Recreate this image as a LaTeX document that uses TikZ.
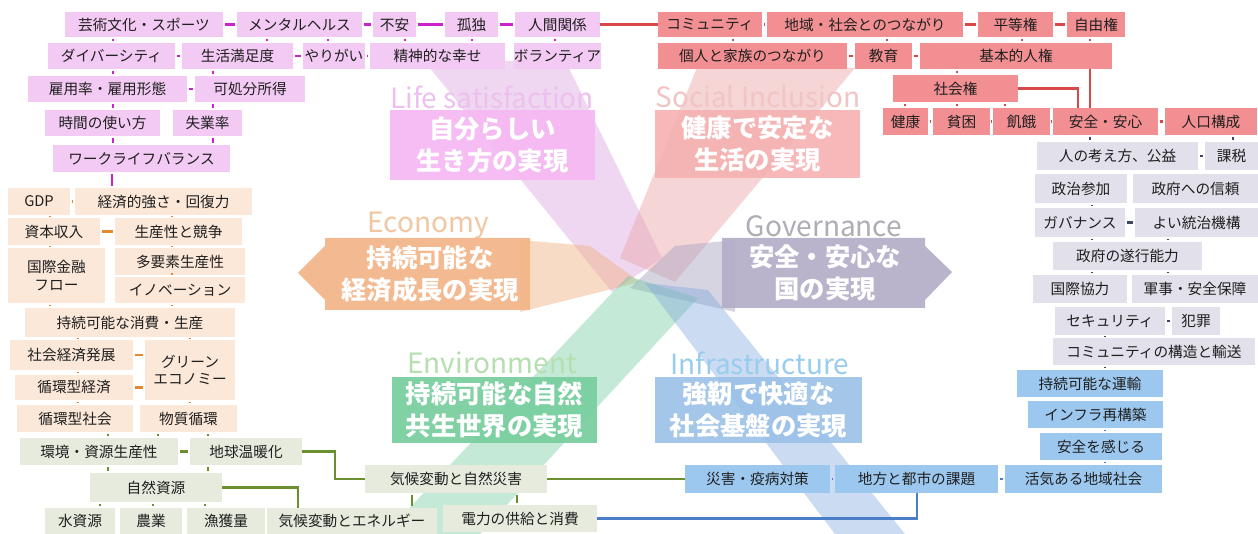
\documentclass[tikz,border=0pt]{standalone}
\usepackage{fontspec}
\setmainfont{Noto Sans CJK JP}
\definecolor{lifeF}{HTML}{F3CAF3}
\definecolor{lifeC}{HTML}{CC22CC}
\definecolor{socF}{HTML}{F28F92}
\definecolor{socC}{HTML}{D94848}
\definecolor{govF}{HTML}{E2E0EA}
\definecolor{govC}{HTML}{3C4668}
\definecolor{infF}{HTML}{9CC8F0}
\definecolor{infC}{HTML}{4A7EC8}
\definecolor{ecoF}{HTML}{FCE8D9}
\definecolor{ecoC}{HTML}{E38A2E}
\definecolor{envF}{HTML}{E6EBDE}
\definecolor{envC}{HTML}{6B8E2E}
\definecolor{lifeB}{HTML}{F5B8F2}
\definecolor{socB}{HTML}{F6B2B2}
\definecolor{ecoB}{HTML}{F3B588}
\definecolor{govB}{HTML}{B5ADC8}
\definecolor{envB}{HTML}{78CE9E}
\definecolor{infB}{HTML}{9CC2E8}
\definecolor{lifeT}{HTML}{EEC0EE}
\definecolor{socT}{HTML}{F2C4C4}
\definecolor{ecoT}{HTML}{F0C7A2}
\definecolor{govT}{HTML}{ADADB5}
\definecolor{envT}{HTML}{B5DFAE}
\definecolor{infT}{HTML}{98CDEE}
\definecolor{pinkBl}{HTML}{DDA8E0}
\definecolor{salBl}{HTML}{EAA4A6}
\definecolor{oraBl}{HTML}{F0B080}
\definecolor{greyBl}{HTML}{A8A0C0}
\definecolor{grnBl}{HTML}{6CC89C}
\definecolor{bluBl}{HTML}{7FA6DE}
\newcommand\bx[7]{\node[#6, minimum width={(#4-#2)*0.75pt}, minimum height={(#5-#3)*0.75pt}] (#1) at ({(#2+#4)/2},{(#3+#5)/2}) {#7};}
\newcommand\vtk[4]{\draw[#1] (#2.south -| #4,0) -- (#3.north -| #4,0);}
\newcommand\htk[3]{\draw[#1] (#2.east) -- (#2.east -| #3.west);}
\begin{document}
\begin{tikzpicture}[x=0.75pt,y=-0.75pt,
  bxs/.style={inner sep=0pt, outer sep=0pt, font=\fontsize{11}{13}\selectfont, text=black!88, align=center},
  lifebox/.style={bxs, fill=lifeF},
  socbox/.style={bxs, fill=socF},
  govbox/.style={bxs, fill=govF},
  infbox/.style={bxs, fill=infF},
  ecobox/.style={bxs, fill=ecoF},
  envbox/.style={bxs, fill=envF},
  tick/.style={line width=1.6pt, shorten <=1.5pt, shorten >=1.5pt},
  lt/.style={tick, draw=lifeC},
  st/.style={tick, draw=socC},
  gt/.style={tick, draw=govC},
  it/.style={tick, draw=infC},
  et/.style={tick, draw=ecoC},
  nt/.style={tick, draw=envC},
  thick link/.style={line width=2.2pt},
  cbox/.style={inner sep=0pt, outer sep=0pt, text=white, font=\fontsize{19}{24}\selectfont\bfseries, align=center},
  ctitle/.style={inner sep=0pt, font=\fontsize{21}{24}\selectfont}
]
\useasboundingbox (0,0) rectangle (1258,534);
\fill[white] (0,0) rectangle (1258,534);

% ---- central blades
\fill[pinkBl, opacity=.45] (425,62) -- (565,60) -- (662,258) -- (612,292) -- cycle;
\fill[salBl, opacity=.45] (700,60) -- (855,68) -- (675,282) -- (620,258) -- cycle;
\fill[oraBl, opacity=.45] (520,240) -- (590,246) -- (640,282) -- (520,312) -- cycle;
\fill[greyBl, opacity=.45] (735,240) -- (675,246) -- (630,288) -- (735,312) -- cycle;
\fill[grnBl, opacity=.4] (385,534) -- (480,534) -- (698,298) -- (628,276) -- cycle;
\fill[bluBl, opacity=.4] (645,283) -- (708,290) -- (905,534) -- (835,534) -- cycle;

% ---- central labels
\node[ctitle, text=lifeT] (tLife) at (492,97) {Life satisfaction};
\bx{bLife}{390}{110}{595}{180}{cbox, fill=lifeB, fill opacity=.92, text opacity=1}{自分らしい\\生き方の実現}
\node[ctitle, text=socT] (tSoc) at (758,97) {Social Inclusion};
\bx{bSoc}{655}{110}{860}{178}{cbox, fill=socB, fill opacity=.92, text opacity=1}{健康で安定な\\生活の実現}
\node[ctitle, text=ecoT] (tEco) at (428,226) {Economy};
\fill[ecoB, opacity=.92] (298,273) -- (325,246) -- (325,238) -- (530,238) -- (530,310) -- (325,310) -- (325,300) -- cycle;
\node[cbox] (bEco) at (430,274) {持続可能な\\経済成長の実現};
\node[ctitle, text=govT] (tGov) at (824,226) {Governance};
\fill[govB, opacity=.92] (722,238) -- (925,238) -- (925,246) -- (952,272) -- (925,300) -- (925,308) -- (722,308) -- cycle;
\node[cbox] (bGov) at (825,273) {安全・安心な\\国の実現};
\node[ctitle, text=envT] (tEnv) at (492,363) {Environment};
\bx{bEnv}{392}{377}{597}{443}{cbox, fill=envB, fill opacity=.92, text opacity=1}{持続可能な自然\\共生世界の実現}
\node[ctitle, text=infT] (tInf) at (760,363) {Infrastructure};
\bx{bInf}{655}{377}{862}{443}{cbox, fill=infB, fill opacity=.92, text opacity=1}{強靭で快適な\\社会基盤の実現}

% ---- Life satisfaction
\bx{L1}{65}{12}{223}{37}{lifebox}{芸術文化・スポーツ}
\bx{L2}{237}{12}{362}{37}{lifebox}{メンタルヘルス}
\bx{L3}{373}{12}{416}{37}{lifebox}{不安}
\bx{L4}{445}{12}{498}{37}{lifebox}{孤独}
\bx{L5}{515}{12}{600}{37}{lifebox}{人間関係}
\bx{L6}{48}{43}{175}{69}{lifebox}{ダイバーシティ}
\bx{L7}{182}{43}{293}{69}{lifebox}{生活満足度}
\bx{L8}{303}{43}{365}{69}{lifebox}{やりがい}
\bx{L9}{370}{43}{505}{69}{lifebox}{精神的な幸せ}
\bx{L10}{515}{43}{600}{69}{lifebox}{ボランティア}
\bx{L11}{28}{76}{187}{102}{lifebox}{雇用率・雇用形態}
\bx{L12}{195}{76}{305}{102}{lifebox}{可処分所得}
\bx{L13}{45}{110}{160}{136}{lifebox}{時間の使い方}
\bx{L14}{173}{110}{242}{136}{lifebox}{失業率}
\bx{L15}{53}{145}{230}{172}{lifebox}{ワークライフバランス}

% ---- Social inclusion
\bx{S1}{658}{12}{762}{37}{socbox}{コミュニティ}
\bx{S2}{767}{12}{963}{37}{socbox}{地域・社会とのつながり}
\bx{S3}{978}{12}{1053}{37}{socbox}{平等権}
\bx{S4}{1067}{12}{1125}{37}{socbox}{自由権}
\bx{S5}{658}{43}{847}{69}{socbox}{個人と家族のつながり}
\bx{S6}{855}{43}{912}{69}{socbox}{教育}
\bx{S7}{920}{43}{1112}{69}{socbox}{基本的人権}
\bx{S8}{893}{75}{1018}{102}{socbox}{社会権}
\bx{S9}{883}{108}{928}{135}{socbox}{健康}
\bx{S10}{933}{108}{990}{135}{socbox}{貧困}
\bx{S11}{993}{108}{1050}{135}{socbox}{飢餓}
\bx{S12}{1053}{108}{1158}{135}{socbox}{安全・安心}
\bx{S13}{1165}{108}{1257}{135}{socbox}{人口構成}

% ---- Governance
\bx{G1}{1037}{142}{1198}{170}{govbox}{人の考え方、公益}
\bx{G2}{1205}{142}{1258}{170}{govbox}{課税}
\bx{G3}{1035}{174}{1127}{203}{govbox}{政治参加}
\bx{G4}{1133}{174}{1258}{203}{govbox}{政府への信頼}
\bx{G5}{1035}{208}{1125}{237}{govbox}{ガバナンス}
\bx{G6}{1135}{208}{1258}{237}{govbox}{よい統治機構}
\bx{G7}{1053}{242}{1202}{270}{govbox}{政府の遂行能力}
\bx{G8}{1033}{275}{1127}{303}{govbox}{国際協力}
\bx{G9}{1132}{275}{1258}{303}{govbox}{軍事・安全保障}
\bx{G10}{1055}{307}{1165}{335}{govbox}{セキュリティ}
\bx{G11}{1172}{307}{1220}{335}{govbox}{犯罪}
\bx{G12}{1053}{338}{1255}{365}{govbox}{コミュニティの構造と輸送}

% ---- Infrastructure
\bx{I1}{1017}{370}{1163}{397}{infbox}{持続可能な運輸}
\bx{I2}{1028}{401}{1163}{428}{infbox}{インフラ再構築}
\bx{I3}{1040}{433}{1162}{460}{infbox}{安全を感じる}
\bx{I4}{1005}{465}{1162}{493}{infbox}{活気ある地域社会}
\bx{I5}{835}{465}{998}{493}{infbox}{地方と都市の課題}
\bx{I6}{685}{465}{830}{493}{infbox}{災害・疫病対策}

% ---- Economy
\bx{C1}{8}{188}{70}{215}{ecobox}{GDP}
\bx{C2}{75}{188}{252}{215}{ecobox}{経済的強さ・回復力}
\bx{C3}{8}{218}{100}{245}{ecobox}{資本収入}
\bx{C4}{115}{218}{242}{245}{ecobox}{生産性と競争}
\bx{C5}{8}{248}{105}{303}{ecobox}{国際金融\\フロー}
\bx{C6}{115}{248}{245}{275}{ecobox}{多要素生産性}
\bx{C7}{115}{277}{245}{303}{ecobox}{イノベーション}
\bx{C8}{25}{308}{235}{337}{ecobox}{持続可能な消費・生産}
\bx{C9}{10}{340}{133}{370}{ecobox}{社会経済発展}
\bx{C10}{145}{340}{235}{400}{ecobox}{グリーン\\エコノミー}
\bx{C11}{15}{375}{133}{400}{ecobox}{循環型経済}
\bx{C12}{17}{405}{133}{432}{ecobox}{循環型社会}
\bx{C13}{140}{405}{237}{432}{ecobox}{物質循環}

% ---- Environment
\bx{E1}{20}{438}{178}{465}{envbox}{環境・資源生産性}
\bx{E2}{190}{438}{302}{465}{envbox}{地球温暖化}
\bx{E3}{90}{473}{222}{502}{envbox}{自然資源}
\bx{E4}{45}{508}{115}{534}{envbox}{水資源}
\bx{E5}{120}{508}{182}{534}{envbox}{農業}
\bx{E6}{187}{508}{265}{534}{envbox}{漁獲量}
\bx{E7}{267}{508}{437}{534}{envbox}{気候変動とエネルギー}
\bx{E8}{365}{465}{547}{493}{envbox}{気候変動と自然災害}
\bx{E9}{443}{505}{597}{532}{envbox}{電力の供給と消費}

% ---- Life connectors
\htk{lt}{L1}{L2} \htk{lt}{L2}{L3} \htk{lt}{L3}{L4} \htk{lt}{L4}{L5}
\htk{lt}{L6}{L7} \htk{lt}{L7}{L8} \htk{lt}{L8}{L9} \htk{lt}{L11}{L12}
\vtk{lt}{L1}{L6}{113} \vtk{lt}{L2}{L7}{267} \vtk{lt}{L2}{L8}{328}
\vtk{lt}{L3}{L9}{405} \vtk{lt}{L4}{L9}{472} \vtk{lt}{L5}{L10}{555}
\vtk{lt}{L6}{L11}{113} \vtk{lt}{L7}{L12}{213}
\vtk{lt}{L11}{L13}{113} \vtk{lt}{L12}{L14}{213}
\vtk{lt}{L13}{L15}{113} \vtk{lt}{L14}{L15}{213}
\vtk{lt}{L15}{C2}{112}
\draw[thick link, socC] (L5.east) -- (S1.west);

% ---- Social connectors
\htk{st}{S1}{S2} \htk{st}{S2}{S3} \htk{st}{S3}{S4}
\htk{st}{S5}{S6} \htk{st}{S6}{S7}
\htk{st}{S9}{S10} \htk{st}{S10}{S11} \htk{st}{S11}{S12} \htk{st}{S12}{S13}
\vtk{st}{S1}{S5}{733} \vtk{st}{S2}{S6}{887} \vtk{st}{S3}{S7}{1022} \vtk{st}{S4}{S7}{1090}
\vtk{st}{S7}{S8}{957}
\vtk{st}{S8}{S9}{905} \vtk{st}{S8}{S10}{957} \vtk{st}{S8}{S11}{1005}
\draw[thick link, socC] (S7.south -| 1090,0) -- (S12.north -| 1090,0);
\draw[thick link, socC] (S8.east) -| (S12.north -| 1078,0);

% ---- Governance connectors
\vtk{gt}{S12}{G1}{1090} \vtk{gt}{S13}{G2}{1233}
\htk{gt}{G1}{G2} \htk{gt}{G5}{G6} \htk{gt}{G10}{G11}
\vtk{gt}{G1}{G3}{1092} \vtk{gt}{G1}{G4}{1148}
\vtk{gt}{G3}{G5}{1092}
\vtk{gt}{G5}{G7}{1092} \vtk{gt}{G6}{G7}{1168}
\vtk{gt}{G7}{G8}{1092} \vtk{gt}{G7}{G9}{1168}
\vtk{gt}{G8}{G10}{1092} \vtk{gt}{G9}{G10}{1145}
\vtk{gt}{G10}{G12}{1105}
\vtk{gt}{G12}{I1}{1105}

% ---- Infrastructure connectors
\vtk{it}{I1}{I2}{1105} \vtk{it}{I2}{I3}{1105} \vtk{it}{I3}{I4}{1105}
\draw[it] (I5.east) -- (I4.west);
\draw[it] (I6.east) -- (I5.west);
\draw[thick link, infC] (E9.east) -| (I5.south -| 917,0);

% ---- Economy connectors
\htk{et}{C1}{C2} \htk{et}{C3}{C4} \htk{et}{C9}{C10} \htk{et}{C11}{C10}
\vtk{et}{C1}{C3}{50} \vtk{et}{C2}{C4}{172} \vtk{et}{C3}{C5}{50}
\vtk{et}{C4}{C6}{172} \vtk{et}{C6}{C7}{172}
\vtk{et}{C5}{C8}{50} \vtk{et}{C7}{C8}{172}
\vtk{et}{C8}{C9}{78} \vtk{et}{C8}{C10}{190}
\vtk{et}{C9}{C11}{78} \vtk{et}{C11}{C12}{78} \vtk{et}{C10}{C13}{190}

% ---- Environment connectors
\vtk{nt}{C12}{E1}{108} \vtk{nt}{C13}{E1}{158} \vtk{nt}{C13}{E2}{208}
\htk{nt}{E1}{E2}
\vtk{nt}{E1}{E3}{108} \vtk{nt}{E2}{E3}{208}
\vtk{nt}{E3}{E4}{100} \vtk{nt}{E3}{E5}{153} \vtk{nt}{E3}{E6}{205}
\vtk{nt}{E8}{E7}{412} \vtk{nt}{E8}{E9}{517}
\draw[thick link, envC] (E2.east) -- ++(33,0) |- (E8.west);
\draw[thick link, envC] (E3.east) -| (E7.north -| 298,0);
\draw[thick link, envC] (E8.east) -- (I6.west);
\end{tikzpicture}
\end{document}
